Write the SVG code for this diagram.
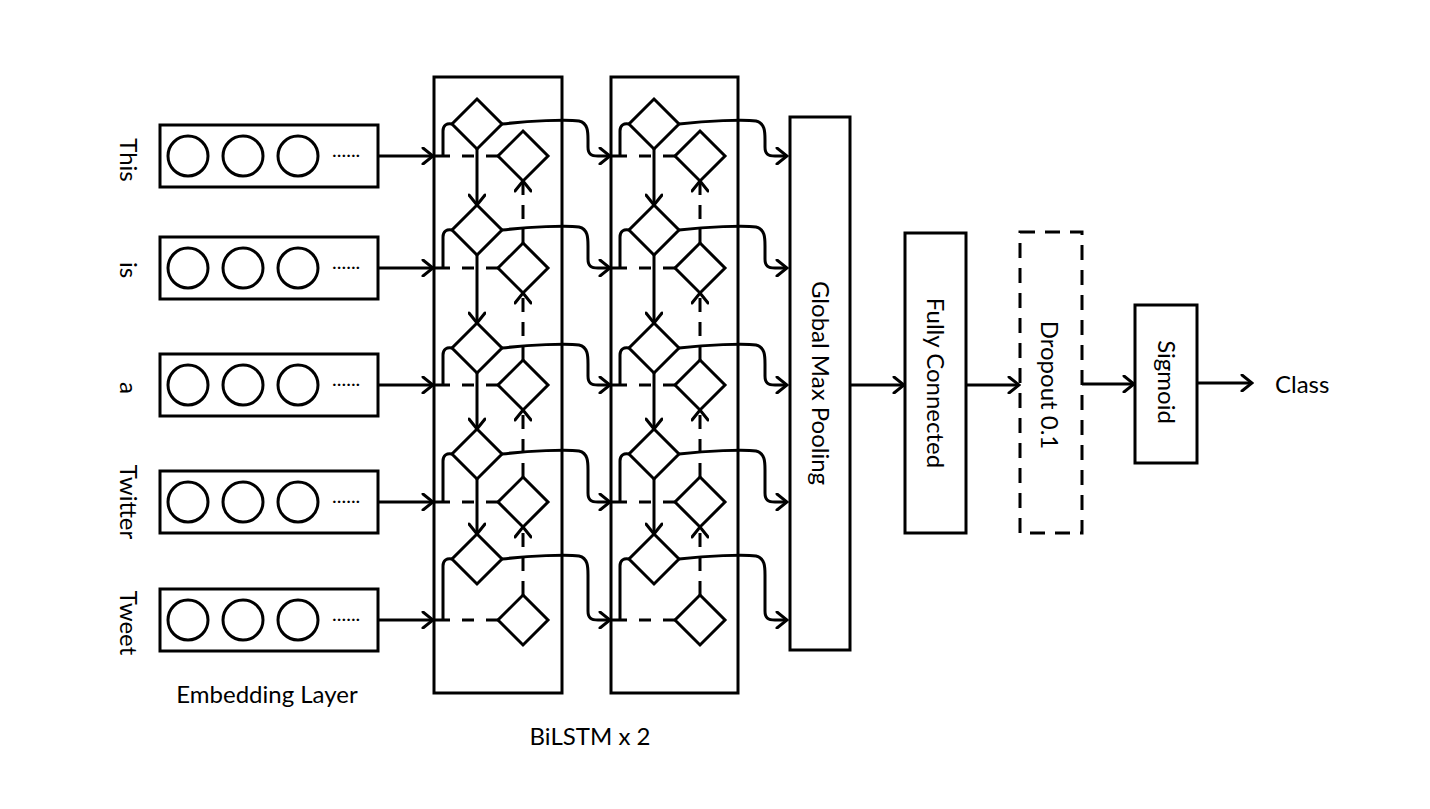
<svg xmlns="http://www.w3.org/2000/svg" width="1430" height="809" viewBox="0 0 1430 809">
<style>
.box{fill:#fff;stroke:#000;stroke-width:3}
.dbox{fill:#fff;stroke:#000;stroke-width:3;stroke-dasharray:15 10}
.cell{fill:none;stroke:#000;stroke-width:3}
.dia{fill:#fff;stroke:#000;stroke-width:3;stroke-linejoin:miter}
.ln{fill:none;stroke:#000;stroke-width:3}
.arr{fill:none;stroke:#000;stroke-width:3;marker-end:url(#ah)}
.dash{fill:none;stroke:#000;stroke-width:3;stroke-dasharray:16 12 12 12 12 60}
.darr{fill:none;stroke:#000;stroke-width:3;stroke-dasharray:14 10;marker-end:url(#ah)}
text{font-family:Lato,"Liberation Sans",sans-serif;font-size:24px;fill:#000}
.dots{font-size:20px}
</style>
<defs>
<marker id="ah" viewBox="0 0 14 18" refX="12" refY="9" markerWidth="14" markerHeight="18" markerUnits="userSpaceOnUse" orient="auto">
<path d="M2,1 L12,9 L2,17" fill="none" stroke="#000" stroke-width="3" stroke-linecap="round"/>
</marker>
</defs>
<rect width="1430" height="809" fill="#fff"/>

<g id="embedding">
<g id="emb-this"><rect class="box" x="160" y="125" width="218" height="62"/><circle class="cell" cx="188" cy="156" r="20"/><circle class="cell" cx="243" cy="156" r="20"/><circle class="cell" cx="298" cy="156" r="20"/><text class="dots" x="332" y="157">......</text><text transform="translate(120,160) rotate(90)" text-anchor="middle">This</text></g>
<g id="emb-is"><rect class="box" x="160" y="237" width="218" height="62"/><circle class="cell" cx="188" cy="268" r="20"/><circle class="cell" cx="243" cy="268" r="20"/><circle class="cell" cx="298" cy="268" r="20"/><text class="dots" x="332" y="269">......</text><text transform="translate(120,270) rotate(90)" text-anchor="middle">is</text></g>
<g id="emb-a"><rect class="box" x="160" y="354" width="218" height="62"/><circle class="cell" cx="188" cy="385" r="20"/><circle class="cell" cx="243" cy="385" r="20"/><circle class="cell" cx="298" cy="385" r="20"/><text class="dots" x="332" y="386">......</text><text transform="translate(120,388) rotate(90)" text-anchor="middle">a</text></g>
<g id="emb-twitter"><rect class="box" x="160" y="471" width="218" height="62"/><circle class="cell" cx="188" cy="502" r="20"/><circle class="cell" cx="243" cy="502" r="20"/><circle class="cell" cx="298" cy="502" r="20"/><text class="dots" x="332" y="503">......</text><text transform="translate(120,502) rotate(90)" text-anchor="middle">Twitter</text></g>
<g id="emb-tweet"><rect class="box" x="160" y="589" width="218" height="62"/><circle class="cell" cx="188" cy="620" r="20"/><circle class="cell" cx="243" cy="620" r="20"/><circle class="cell" cx="298" cy="620" r="20"/><text class="dots" x="332" y="621">......</text><text transform="translate(120,623) rotate(90)" text-anchor="middle">Tweet</text></g>
<text id="emb-label" x="267" y="703" text-anchor="middle">Embedding Layer</text>
</g>

<g id="bilstm1">
<rect class="box" x="434" y="77" width="128" height="616"/>
<polygon class="dia" points="477,99 502,124 477,149 452,124"/>
<polygon class="dia" points="523,131 548,156 523,181 498,156"/>
<polygon class="dia" points="477,205 502,230 477,255 452,230"/>
<polygon class="dia" points="523,243 548,268 523,293 498,268"/>
<polygon class="dia" points="477,323 502,348 477,373 452,348"/>
<polygon class="dia" points="523,360 548,385 523,410 498,385"/>
<polygon class="dia" points="477,429 502,454 477,479 452,454"/>
<polygon class="dia" points="523,477 548,502 523,527 498,502"/>
<polygon class="dia" points="477,534 502,559 477,584 452,559"/>
<polygon class="dia" points="523,595 548,620 523,645 498,620"/>
</g>

<g id="bilstm2">
<rect class="box" x="611" y="77" width="127" height="616"/>
<polygon class="dia" points="654,99 679,124 654,149 629,124"/>
<polygon class="dia" points="700,131 725,156 700,181 675,156"/>
<polygon class="dia" points="654,205 679,230 654,255 629,230"/>
<polygon class="dia" points="700,243 725,268 700,293 675,268"/>
<polygon class="dia" points="654,323 679,348 654,373 629,348"/>
<polygon class="dia" points="700,360 725,385 700,410 675,385"/>
<polygon class="dia" points="654,429 679,454 654,479 629,454"/>
<polygon class="dia" points="700,477 725,502 700,527 675,502"/>
<polygon class="dia" points="654,534 679,559 654,584 629,559"/>
<polygon class="dia" points="700,595 725,620 700,645 675,620"/>
</g>
<text id="bilstm-label" x="590" y="745" text-anchor="middle">BiLSTM x 2</text>

<g id="gmp"><rect class="box" x="790" y="117" width="60" height="533"/><text transform="translate(812,383) rotate(90)" text-anchor="middle">Global Max Pooling</text></g>
<g id="fc"><rect class="box" x="905" y="233" width="61" height="300"/><text transform="translate(927,383) rotate(90)" text-anchor="middle">Fully Connected</text></g>
<g id="dropout"><rect class="dbox" x="1020" y="232" width="62" height="301"/><text transform="translate(1041,385) rotate(90)" text-anchor="middle">Dropout 0.1</text></g>
<g id="sigmoid"><rect class="box" x="1135" y="305" width="62" height="158"/><text transform="translate(1158,382) rotate(90)" text-anchor="middle">Sigmoid</text></g>
<text id="class" x="1275" y="393">Class</text>

<g id="connectors">
<!-- embedding to bilstm1 -->
<path class="arr" d="M378,156 H433"/>
<path class="arr" d="M378,268 H433"/>
<path class="arr" d="M378,385 H433"/>
<path class="arr" d="M378,502 H433"/>
<path class="arr" d="M378,620 H433"/>
<!-- bilstm1 inputs -->
<path class="dash" d="M434,156 H498"/>
<path class="dash" d="M434,268 H498"/>
<path class="dash" d="M434,385 H498"/>
<path class="dash" d="M434,502 H498"/>
<path class="dash" d="M434,620 H498"/>
<path class="ln" d="M443,156 V131 C443,125 447,123 452,124"/>
<path class="ln" d="M443,268 V237 C443,231 447,229 452,230"/>
<path class="ln" d="M443,385 V355 C443,349 447,347 452,348"/>
<path class="ln" d="M443,502 V461 C443,455 447,453 452,454"/>
<path class="ln" d="M443,620 V566 C443,560 447,558 452,559"/>
<!-- bilstm1 forward / backward -->
<path class="arr" d="M477,149 V205"/>
<path class="arr" d="M477,255 V323"/>
<path class="arr" d="M477,373 V429"/>
<path class="arr" d="M477,479 V534"/>
<path class="darr" d="M523,243 V181"/>
<path class="darr" d="M523,360 V293"/>
<path class="darr" d="M523,477 V410"/>
<path class="darr" d="M523,595 V527"/>
<!-- bilstm1 outputs to bilstm2 -->
<path class="arr" d="M502,124 C530,121 566,119 579,121 C588,123 588,132 588,140 L588,147 C588,154 591,156 598,156 L610,156"/>
<path class="arr" d="M502,230 C530,227 566,225 579,227 C588,229 588,238 588,246 L588,259 C588,266 591,268 598,268 L610,268"/>
<path class="arr" d="M502,348 C530,345 566,343 579,345 C588,347 588,356 588,364 L588,376 C588,383 591,385 598,385 L610,385"/>
<path class="arr" d="M502,454 C530,451 566,449 579,451 C588,453 588,462 588,470 L588,493 C588,500 591,502 598,502 L610,502"/>
<path class="arr" d="M502,559 C530,556 566,554 579,556 C588,558 588,567 588,575 L588,611 C588,618 591,620 598,620 L610,620"/>
<!-- bilstm2 inputs -->
<path class="dash" d="M611,156 H675"/>
<path class="dash" d="M611,268 H675"/>
<path class="dash" d="M611,385 H675"/>
<path class="dash" d="M611,502 H675"/>
<path class="dash" d="M611,620 H675"/>
<path class="ln" d="M620,156 V131 C620,125 624,123 629,124"/>
<path class="ln" d="M620,268 V237 C620,231 624,229 629,230"/>
<path class="ln" d="M620,385 V355 C620,349 624,347 629,348"/>
<path class="ln" d="M620,502 V461 C620,455 624,453 629,454"/>
<path class="ln" d="M620,620 V566 C620,560 624,558 629,559"/>
<!-- bilstm2 forward / backward -->
<path class="arr" d="M654,149 V205"/>
<path class="arr" d="M654,255 V323"/>
<path class="arr" d="M654,373 V429"/>
<path class="arr" d="M654,479 V534"/>
<path class="darr" d="M700,243 V181"/>
<path class="darr" d="M700,360 V293"/>
<path class="darr" d="M700,477 V410"/>
<path class="darr" d="M700,595 V527"/>
<!-- bilstm2 outputs to pooling -->
<path class="arr" d="M679,124 C707,121 743,119 756,121 C765,123 765,132 765,140 L765,147 C765,154 768,156 775,156 L787,156"/>
<path class="arr" d="M679,230 C707,227 743,225 756,227 C765,229 765,238 765,246 L765,259 C765,266 768,268 775,268 L787,268"/>
<path class="arr" d="M679,348 C707,345 743,343 756,345 C765,347 765,356 765,364 L765,376 C765,383 768,385 775,385 L787,385"/>
<path class="arr" d="M679,454 C707,451 743,449 756,451 C765,453 765,462 765,470 L765,493 C765,500 768,502 775,502 L787,502"/>
<path class="arr" d="M679,559 C707,556 743,554 756,556 C765,558 765,567 765,575 L765,611 C765,618 768,620 775,620 L787,620"/>
<!-- head -->
<path class="arr" d="M850,385 H904"/>
<path class="arr" d="M966,385 H1019"/>
<path class="arr" d="M1082,384 H1134"/>
<path class="arr" d="M1197,383 H1252"/>
</g>
</svg>
